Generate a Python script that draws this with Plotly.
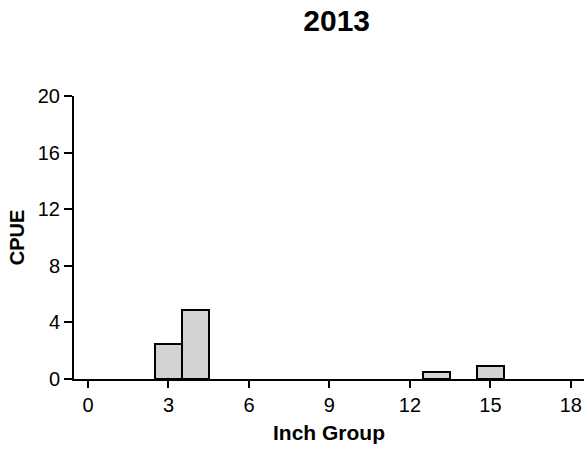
import plotly.graph_objects as go

inch_group = [3, 4, 13, 15]
cpue = [2.5, 4.9, 0.5, 0.9]
x_ticks = [0, 3, 6, 9, 12, 15, 18]
y_ticks = [0, 4, 8, 12, 16, 20]

fig = go.Figure(go.Bar(
    x=inch_group, y=cpue, width=1,
    marker=dict(color="#d3d3d3", line=dict(color="black", width=2)),
))

font = "Liberation Sans, Arial, sans-serif"
fig.update_layout(
    width=584, height=449,
    margin=dict(l=74, r=0, t=96, b=70, autoexpand=False),
    plot_bgcolor="white", paper_bgcolor="white",
    font=dict(family=font, size=20, color="black"),
    title=dict(text="<b>2013</b>", x=0.5765, xanchor="center", y=0.954, yanchor="middle",
               font=dict(size=30, family=font, color="black")),
    showlegend=False,
    bargap=0,
)
fig.update_xaxes(
    range=[-0.522, 18.49], tickvals=x_ticks, ticks="outside", ticklen=7, tickwidth=2,
    tickcolor="black", showline=True, linecolor="black", linewidth=2,
    showgrid=False, zeroline=False, automargin=False,
    title=dict(text="<b>Inch Group</b>", font=dict(size=21), standoff=10),
)
fig.update_yaxes(
    range=[0, 20], tickvals=y_ticks, ticks="outside", ticklen=8, tickwidth=2,
    tickcolor="black", showline=True, linecolor="black", linewidth=2,
    showgrid=False, zeroline=False, automargin=False,
    title=dict(text="<b>CPUE</b>", font=dict(size=20), standoff=8),
)
fig.write_html(
    "out.html",
    config={"displayModeBar": False},
    post_script="document.body.style.margin='0';document.body.style.overflow='hidden';",
)
